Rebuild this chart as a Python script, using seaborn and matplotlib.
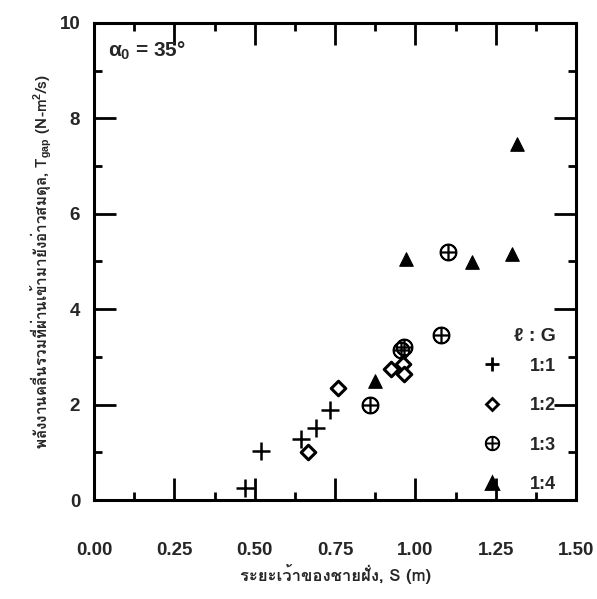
import numpy as np
import pandas as pd
import seaborn as sns
import matplotlib
matplotlib.use("Agg")
import matplotlib.pyplot as plt
from matplotlib import font_manager
from matplotlib.ft2font import FT2Font
from matplotlib.lines import Line2D
from matplotlib.ticker import MultipleLocator

# data (S in m, T_gap in N-m^2/s)
s_11 = [0.47, 0.52, 0.645, 0.69, 0.735]
t_11 = [0.25, 1.03, 1.28, 1.52, 1.88]
s_12 = [0.665, 0.76, 0.925, 0.96, 0.965]
t_12 = [1.00, 2.35, 2.75, 2.85, 2.65]
s_13 = [0.86, 0.955, 0.965, 1.08, 1.10]
t_13 = [2.00, 3.15, 3.20, 3.45, 5.20]
s_14 = [0.875, 0.97, 1.175, 1.30, 1.315]
t_14 = [2.50, 5.05, 4.98, 5.15, 7.45]
ratios = ["1:1", "1:2", "1:3", "1:4"]
x_ticks = [0.00, 0.25, 0.50, 0.75, 1.00, 1.25, 1.50]
x_tick_labels = ["0.00", "0.25", "0.50", "0.75", "1.00", "1.25", "1.50"]
y_ticks = [0, 2, 4, 6, 8, 10]

df = pd.DataFrame({
    "S": s_11 + s_12 + s_13 + s_14,
    "T": t_11 + t_12 + t_13 + t_14,
    "ratio": sum([[r] * 5 for r in ratios], []),
})


def thai_font():
    # pick any installed font that actually has Thai glyphs
    for f in font_manager.fontManager.ttflist:
        try:
            ft = FT2Font(f.fname)
            if ft.get_char_index(ord("ก")) and ft.get_char_index(ord("ง")):
                return f.name
        except Exception:
            pass
    return None


sns.set_theme(style="ticks")
thai = thai_font()
fams = ([thai] if thai else []) + ["Liberation Sans", "DejaVu Sans"]
plt.rcParams["font.family"] = ["Liberation Sans", "DejaVu Sans"]
plt.rcParams["mathtext.fontset"] = "custom"
plt.rcParams["mathtext.rm"] = "Liberation Sans:bold"
plt.rcParams["mathtext.it"] = "Liberation Sans:bold"

fig = plt.figure(figsize=(5.97, 5.99), dpi=100)
ax = fig.add_axes([0.1575, 0.165, 0.8075, 0.797])

styles = {
    "1:1": dict(marker="+", s=150, linewidth=1.8, color="black"),
    "1:2": dict(marker="D", s=55, facecolor="white", edgecolor="black", linewidth=2.2),
    "1:3": dict(marker=r"$\oplus$", s=140, facecolor="black", edgecolor="black", linewidth=1.1),
    "1:4": dict(marker="^", s=95, color="black", edgecolor="black"),
}
for r in ratios:
    sns.scatterplot(data=df[df["ratio"] == r], x="S", y="T", ax=ax,
                    legend=False, **styles[r])

ax.set_xlim(0, 1.5)
ax.set_ylim(0, 10)
ax.set_xticks(x_ticks)
ax.set_xticklabels(x_tick_labels)
ax.set_yticks(y_ticks)
ax.xaxis.set_minor_locator(MultipleLocator(0.125))
ax.yaxis.set_minor_locator(MultipleLocator(1))
ax.tick_params(which="both", direction="in", top=True, right=True,
               width=2, color="black")
ax.tick_params(which="major", length=16)
ax.tick_params(which="minor", length=6)
ax.tick_params(axis="x", which="major", pad=30, labelsize=13.5)
ax.tick_params(axis="y", which="major", pad=10, labelsize=13.5)
for lab in ax.get_xticklabels() + ax.get_yticklabels():
    lab.set_fontweight("bold")
for sp in ax.spines.values():
    sp.set_linewidth(2.2)
    sp.set_color("black")

ax.set_xlabel("ระยะเว้าของชายฝั่ง, S (m)", family=fams, fontsize=12,
              fontweight="bold", labelpad=4)
ax.set_ylabel("พลังงานคลื่นรวมที่ผ่านเข้ามายังอ่าวสมดุล, T$_{gap}$ (N-m$^2$/s)",
              family=fams, fontsize=11, fontweight="bold", labelpad=4)

ax.text(0.03, 0.965, r"$\alpha_0$ = 35°", transform=ax.transAxes,
        fontsize=15, fontweight="bold", va="top", ha="left")

handles = [Line2D([], [], linestyle="none",
                  markersize=np.sqrt(styles[r]["s"]) * 0.85,
                  marker=styles[r]["marker"], color="black",
                  markerfacecolor=styles[r].get("facecolor", "black"),
                  markeredgewidth=2 if r != "1:3" else 1.0)
           for r in ratios]
leg = ax.legend(handles, ratios, title="ℓ : G", frameon=False,
                loc="lower right", bbox_to_anchor=(0.985, -0.012),
                labelspacing=1.25, handletextpad=1.1, borderaxespad=0.3,
                prop={"weight": "bold", "size": 13},
                title_fontproperties={"weight": "bold", "size": 14})
leg._legend_box.align = "right"
leg._legend_box.sep = 9

fig.savefig("out.png", dpi=100)
